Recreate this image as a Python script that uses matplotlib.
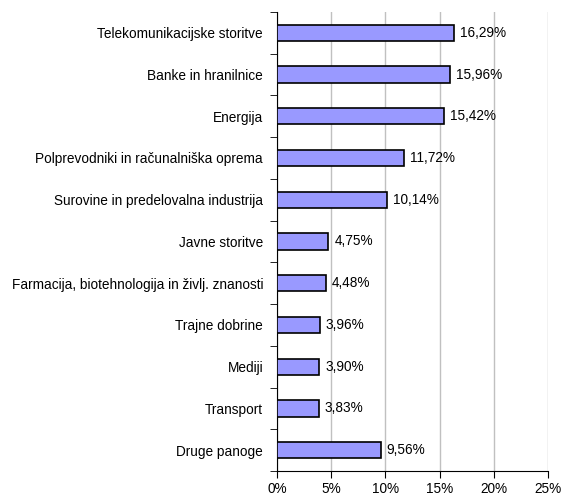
import matplotlib.pyplot as plt
from matplotlib.ticker import FixedLocator

categories = ['Telekomunikacijske storitve', 'Banke in hranilnice', 'Energija',
              'Polprevodniki in računalniška oprema', 'Surovine in predelovalna industrija',
              'Javne storitve', 'Farmacija, biotehnologija in življ. znanosti',
              'Trajne dobrine', 'Mediji', 'Transport', 'Druge panoge']
values = [16.29, 15.96, 15.42, 11.72, 10.14, 4.75, 4.48, 3.96, 3.90, 3.83, 9.56]
xticks = [0, 5, 10, 15, 20, 25]

plt.rcParams.update({'font.family': ['Liberation Sans', 'DejaVu Sans'], 'font.size': 9.8})

fig = plt.figure(figsize=(5.62, 4.97), dpi=100)
ax = fig.add_axes([0.4929, 0.0523, 0.975 - 0.4929, 0.976 - 0.0523])

n = len(categories)
ypos = list(range(n))[::-1]
ax.barh(ypos, values, height=0.39, color='#9999FF', edgecolor='black', linewidth=1.2, zorder=3)
for y, v in zip(ypos, values):
    ax.text(v + 0.55, y, f'{v:.2f}%'.replace('.', ','), va='center', ha='left')

ax.set_xlim(0, 25)
ax.set_ylim(-0.5, n - 0.5)
ax.set_xticks(xticks)
ax.set_xticklabels([f'{t}%' for t in xticks])
ax.set_yticks(ypos)
ax.set_yticklabels(categories)
ax.tick_params(axis='y', which='major', length=0, pad=10)
ax.yaxis.set_minor_locator(FixedLocator([i - 0.5 for i in range(n + 1)]))
ax.tick_params(axis='y', which='minor', length=5, direction='out')
ax.tick_params(axis='x', length=5, direction='out', pad=3)
ax.grid(True, axis='x', color='#c0c0c0', linewidth=1, zorder=0)

for s in ['top', 'right']:
    ax.spines[s].set_visible(False)

fig.savefig('out.png', dpi=100)
